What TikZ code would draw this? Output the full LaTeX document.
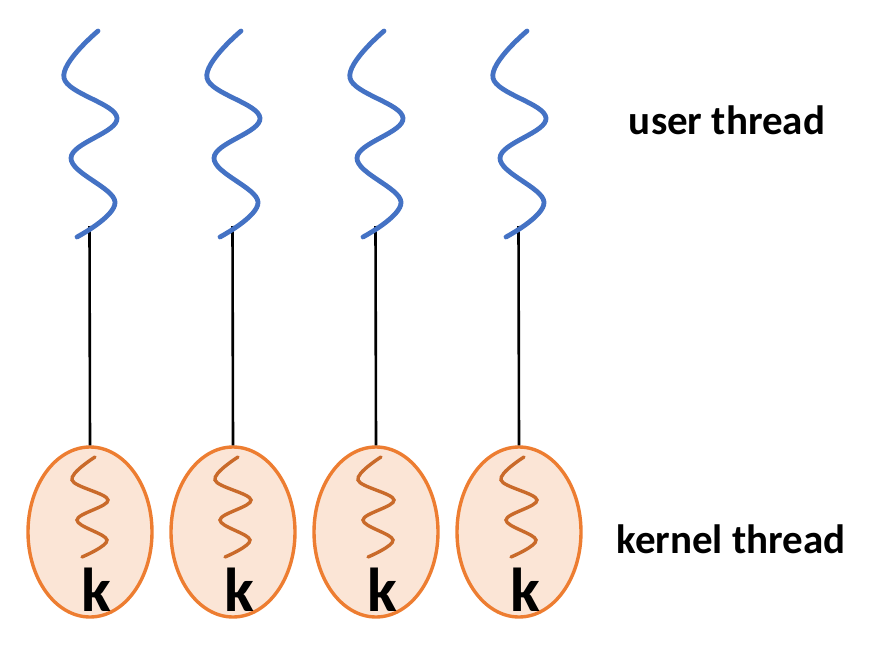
\documentclass[tikz,border=0pt]{standalone}
\usepackage{fontspec}
\setmainfont{Carlito}
\usetikzlibrary{shapes.geometric}
\definecolor{ublue}{HTML}{4472C4}
\definecolor{korange}{HTML}{ED7D31}
\definecolor{kfill}{HTML}{FBE5D6}
\begin{document}
\begin{tikzpicture}[x=1pt,y=-1pt,
  uwave/.style={draw=ublue,line width=4.8pt,line cap=round},
  kwave/.style={draw=korange!85!black,line width=3.4pt,line cap=round},
  kbox/.style={ellipse,draw=korange,fill=kfill,line width=3.4pt,minimum width=124pt,minimum height=170pt,inner sep=0pt},
  link/.style={draw=black,line width=2.6pt},
  klabel/.style={font=\fontsize{62}{62}\selectfont\bfseries,inner sep=0pt},
  tlabel/.style={font=\fontsize{41}{41}\selectfont\bfseries,inner sep=0pt,anchor=base}]
\useasboundingbox (0,0) rectangle (875,650);
\foreach \i in {0,1,2,3}{
  \pgfmathsetmacro{\dx}{143*\i}
  \begin{scope}[xshift=\dx pt]
    \coordinate (w\i) at (89.5,226);
    \node[kbox] (e\i) at (90,532) {};
  \end{scope}
  \draw[link] (w\i) -- (e\i.north);
  \begin{scope}[xshift=\dx pt]
    \draw[uwave] plot[smooth,tension=0.65] coordinates {(98,31) (64,78) (117,118) (71,158) (115,202) (77,237)};
    \draw[kwave] plot[smooth,tension=0.6] coordinates {(95,457) (72,480) (108,500) (77,520) (107,540) (82,557)};
    \node[klabel] (k\i) at (96,590) {k};
  \end{scope}
}
\node[tlabel] (ut) at (727,135) {user thread};
\node[tlabel] (kt) at (731,553) {kernel thread};
\end{tikzpicture}
\end{document}
